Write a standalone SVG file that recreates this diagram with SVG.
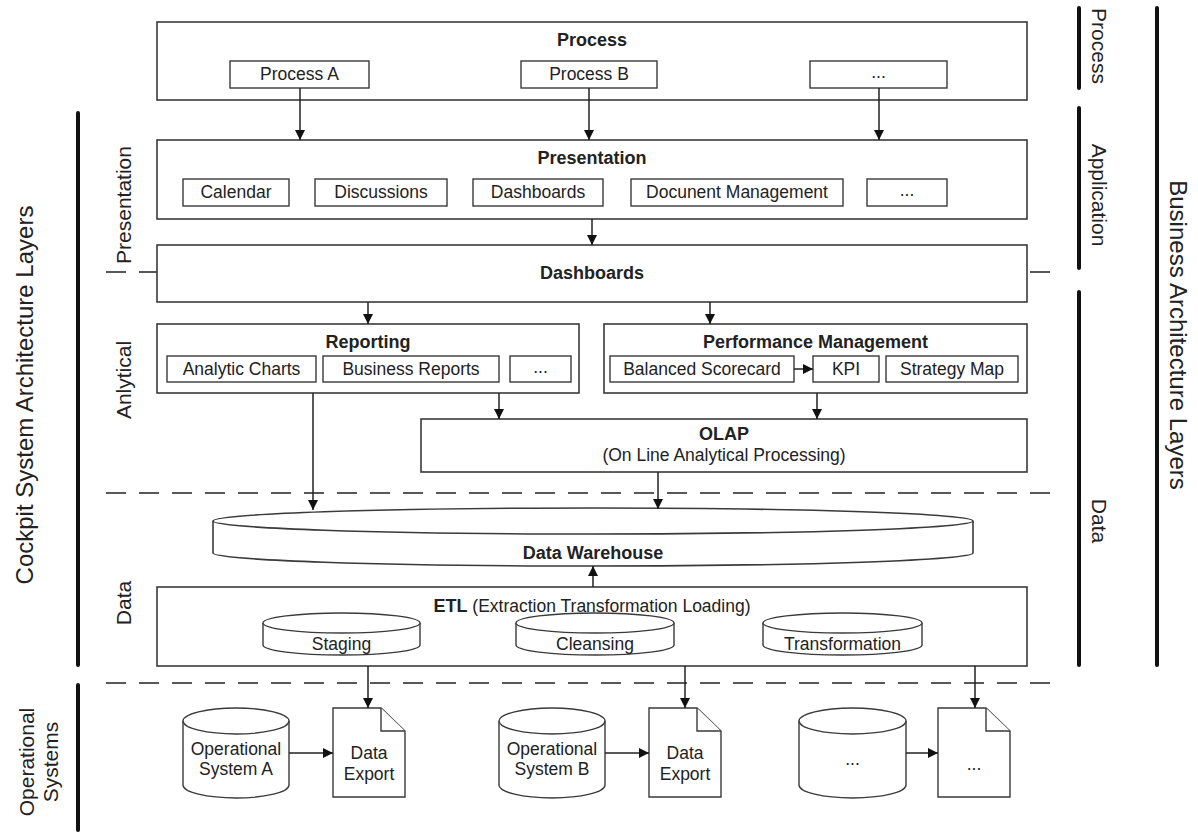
<svg xmlns="http://www.w3.org/2000/svg" width="1198" height="832" viewBox="0 0 1198 832">
<style>
  .box { fill: #fff; stroke: #3a3a3a; stroke-width: 1.6; }
  .sub { fill: #fff; stroke: #3a3a3a; stroke-width: 1.4; }
  .t { font-family: "Liberation Sans", Arial, sans-serif; font-size: 17.5px; fill: #222; text-anchor: middle; }
  .b { font-family: "Liberation Sans", Arial, sans-serif; font-size: 18px; font-weight: bold; fill: #222; text-anchor: middle; }
  .lay { font-family: "Liberation Sans", Arial, sans-serif; font-size: 21px; fill: #222; text-anchor: middle; }
  .big { font-family: "Liberation Sans", Arial, sans-serif; font-size: 24px; fill: #222; text-anchor: middle; }
  .con { fill: none; stroke: #222; stroke-width: 1.5; }
  .arr { fill: none; stroke: #222; stroke-width: 1.5; marker-end: url(#ah); }
  .dash { fill: none; stroke: #222; stroke-width: 1.5; stroke-dasharray: 20 13; }
  .thick { stroke: #111; stroke-width: 4; stroke-linecap: round; }
</style>
<defs>
  <marker id="ah" markerUnits="userSpaceOnUse" markerWidth="10" markerHeight="10" refX="10" refY="5" orient="auto">
    <path d="M0,0 L10,5 L0,10 Z" fill="#111"/>
  </marker>
</defs>
<rect width="1198" height="832" fill="#fff"/>

<!-- dashed separators (behind boxes) -->
<g id="separators">
  <line class="dash" x1="106" y1="272" x2="1058" y2="272"/>
  <line class="dash" x1="106" y1="493" x2="1058" y2="493"/>
  <line class="dash" x1="106" y1="683" x2="1058" y2="683"/>
</g>

<!-- layer labels -->
<g id="left-labels">
  <line class="thick" x1="78" y1="113" x2="78" y2="665"/>
  <line class="thick" x1="78" y1="685" x2="78" y2="830"/>
  <text class="big" transform="translate(33,395) rotate(-90)">Cockpit System Architecture Layers</text>
  <text class="lay" transform="translate(34,762) rotate(-90)">Operational</text>
  <text class="lay" transform="translate(58,762) rotate(-90)">Systems</text>
  <text class="lay" transform="translate(131,205) rotate(-90)">Presentation</text>
  <text class="lay" transform="translate(131,380) rotate(-90)">Anlytical</text>
  <text class="lay" transform="translate(131,603) rotate(-90)">Data</text>
</g>
<g id="right-labels">
  <line class="thick" x1="1079" y1="8" x2="1079" y2="88"/>
  <line class="thick" x1="1079" y1="108" x2="1079" y2="268"/>
  <line class="thick" x1="1079" y1="292" x2="1079" y2="665"/>
  <line class="thick" x1="1157" y1="8" x2="1157" y2="665"/>
  <text class="lay" transform="translate(1092,46) rotate(90)">Process</text>
  <text class="lay" transform="translate(1092,195) rotate(90)">Application</text>
  <text class="lay" transform="translate(1092,521) rotate(90)">Data</text>
  <text class="big" transform="translate(1170,335) rotate(90)">Business Architecture Layers</text>
</g>

<!-- Process -->
<g id="process">
  <rect class="box" x="157" y="22" width="870" height="78"/>
  <text class="b" x="592" y="46">Process</text>
  <rect class="sub" x="230" y="61" width="139" height="27"/>
  <text class="t" x="299.5" y="80">Process A</text>
  <rect class="sub" x="521" y="61" width="136" height="27"/>
  <text class="t" x="589" y="80">Process B</text>
  <rect class="sub" x="810" y="61" width="137" height="27"/>
  <text class="t" x="878.5" y="78">...</text>
</g>

<!-- Presentation -->
<g id="presentation">
  <rect class="box" x="157" y="140" width="870" height="79"/>
  <text class="b" x="592" y="164">Presentation</text>
  <rect class="sub" x="183" y="179" width="106" height="27"/>
  <text class="t" x="236" y="198">Calendar</text>
  <rect class="sub" x="315" y="179" width="132" height="27"/>
  <text class="t" x="381" y="198">Discussions</text>
  <rect class="sub" x="473" y="179" width="130" height="27"/>
  <text class="t" x="538" y="198">Dashboards</text>
  <rect class="sub" x="631" y="179" width="212" height="27"/>
  <text class="t" x="737" y="198">Docunent Management</text>
  <rect class="sub" x="867" y="179" width="80" height="27"/>
  <text class="t" x="907" y="196">...</text>
</g>

<!-- Dashboards -->
<g id="dashboards">
  <rect class="box" x="157" y="245" width="870" height="57"/>
  <text class="b" x="592" y="279">Dashboards</text>
</g>

<!-- Reporting -->
<g id="reporting">
  <rect class="box" x="157" y="324" width="422" height="69"/>
  <text class="b" x="368" y="348">Reporting</text>
  <rect class="sub" x="167" y="356" width="149" height="26"/>
  <text class="t" x="241.5" y="375">Analytic Charts</text>
  <rect class="sub" x="323" y="356" width="176" height="26"/>
  <text class="t" x="411" y="375">Business Reports</text>
  <rect class="sub" x="510" y="356" width="61" height="26"/>
  <text class="t" x="540.5" y="373">...</text>
</g>

<!-- Performance Management -->
<g id="performance">
  <rect class="box" x="604" y="324" width="423" height="69"/>
  <text class="b" x="815.5" y="348">Performance Management</text>
  <rect class="sub" x="610" y="356" width="184" height="26"/>
  <text class="t" x="702" y="375">Balanced Scorecard</text>
  <rect class="sub" x="813" y="356" width="66" height="26"/>
  <text class="t" x="846" y="375">KPI</text>
  <rect class="sub" x="886" y="356" width="132" height="26"/>
  <text class="t" x="952" y="375">Strategy Map</text>
</g>

<!-- OLAP -->
<g id="olap">
  <rect class="box" x="421" y="419" width="606" height="53"/>
  <text class="b" x="724" y="440">OLAP</text>
  <text class="t" x="724" y="461">(On Line Analytical Processing)</text>
</g>

<!-- Data Warehouse -->
<g id="data-warehouse">
  <path class="box" d="M213,521 L213,553 A380,13 0 0 0 973,553 L973,521"/>
  <ellipse class="box" cx="593" cy="521" rx="380" ry="13"/>
  <text class="b" x="593" y="559">Data Warehouse</text>
</g>

<!-- ETL -->
<g id="etl">
  <rect class="box" x="157" y="587" width="870" height="79"/>
  <text class="t" x="592" y="612"><tspan font-weight="bold" font-size="18px">ETL</tspan> (Extraction Transformation Loading)</text>
  <g id="staging">
    <path class="sub" d="M263,623 L263,645 A78.5,10 0 0 0 420,645 L420,623"/>
    <ellipse class="sub" cx="341.5" cy="623" rx="78.5" ry="10"/>
    <text class="t" x="341.5" y="650">Staging</text>
  </g>
  <g id="cleansing">
    <path class="sub" d="M516,623 L516,645 A79,10 0 0 0 674,645 L674,623"/>
    <ellipse class="sub" cx="595" cy="623" rx="79" ry="10"/>
    <text class="t" x="595" y="650">Cleansing</text>
  </g>
  <g id="transformation">
    <path class="sub" d="M763,623 L763,645 A79.5,10 0 0 0 922,645 L922,623"/>
    <ellipse class="sub" cx="842.5" cy="623" rx="79.5" ry="10"/>
    <text class="t" x="842.5" y="650">Transformation</text>
  </g>
</g>

<!-- Operational systems -->
<g id="op-system-a">
  <path class="sub" d="M183,721 L183,785 A53,13 0 0 0 289,785 L289,721"/>
  <ellipse class="sub" cx="236" cy="721" rx="53" ry="13"/>
  <text class="t" x="236" y="755">Operational</text>
  <text class="t" x="236" y="775">System A</text>
</g>
<g id="export-a">
  <path class="sub" d="M333,708 L381,708 L405,731 L405,797 L333,797 Z"/>
  <path class="sub" d="M381,708 L381,731 L405,731" fill="none"/>
  <text class="t" x="369" y="759">Data</text>
  <text class="t" x="369" y="780">Export</text>
</g>
<g id="op-system-b">
  <path class="sub" d="M499,721 L499,785 A53,13 0 0 0 605,785 L605,721"/>
  <ellipse class="sub" cx="552" cy="721" rx="53" ry="13"/>
  <text class="t" x="552" y="755">Operational</text>
  <text class="t" x="552" y="775">System B</text>
</g>
<g id="export-b">
  <path class="sub" d="M649,708 L697,708 L721,731 L721,797 L649,797 Z"/>
  <path class="sub" d="M697,708 L697,731 L721,731" fill="none"/>
  <text class="t" x="685" y="759">Data</text>
  <text class="t" x="685" y="780">Export</text>
</g>
<g id="op-system-c">
  <path class="sub" d="M799,721 L799,785 A53.5,13 0 0 0 906,785 L906,721"/>
  <ellipse class="sub" cx="852.5" cy="721" rx="53.5" ry="13"/>
  <text class="t" x="852.5" y="765">...</text>
</g>
<g id="export-c">
  <path class="sub" d="M938,708 L986,708 L1010,731 L1010,797 L938,797 Z"/>
  <path class="sub" d="M986,708 L986,731 L1010,731" fill="none"/>
  <text class="t" x="974" y="770">...</text>
</g>

<!-- connectors -->
<g id="connectors">
  <line class="arr" x1="300" y1="88" x2="300" y2="140"/>
  <line class="arr" x1="589" y1="88" x2="589" y2="140"/>
  <line class="arr" x1="879" y1="88" x2="879" y2="140"/>
  <line class="arr" x1="592" y1="219" x2="592" y2="245"/>
  <line class="arr" x1="368" y1="302" x2="368" y2="324"/>
  <line class="arr" x1="710" y1="302" x2="710" y2="324"/>
  <line class="arr" x1="794" y1="369" x2="813" y2="369"/>
  <line class="arr" x1="499" y1="393" x2="499" y2="419"/>
  <line class="arr" x1="817" y1="393" x2="817" y2="419"/>
  <line class="arr" x1="313" y1="393" x2="313" y2="510"/>
  <line class="arr" x1="658" y1="472" x2="658" y2="509"/>
  <line class="arr" x1="593" y1="587" x2="593" y2="566"/>
  <line class="arr" x1="368" y1="666" x2="368" y2="708"/>
  <line class="arr" x1="685" y1="666" x2="685" y2="708"/>
  <line class="arr" x1="975" y1="666" x2="975" y2="708"/>
  <line class="arr" x1="289" y1="753" x2="333" y2="753"/>
  <line class="arr" x1="605" y1="753" x2="649" y2="753"/>
  <line class="arr" x1="906" y1="753" x2="938" y2="753"/>
</g>
</svg>
